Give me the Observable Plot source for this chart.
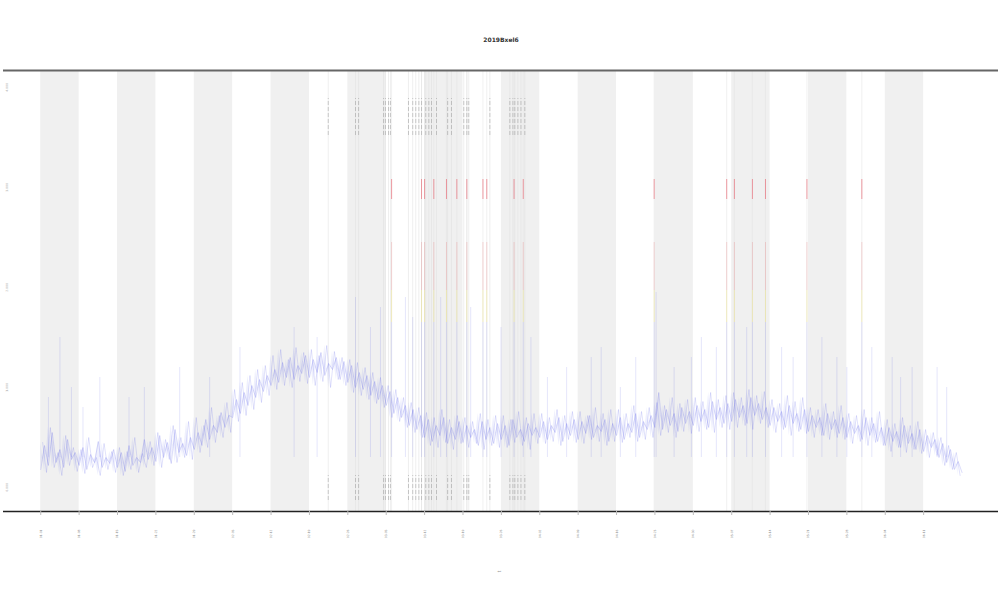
<!DOCTYPE html>
<html><head><meta charset="utf-8">
<script src="https://cdn.jsdelivr.net/npm/d3@7"></script>
<script src="https://cdn.jsdelivr.net/npm/@observablehq/plot@0.6"></script>
<style>body{margin:0;background:#fff;font-family:"DejaVu Sans",sans-serif}</style>
</head><body><div id="chart"></div>
<script>
const title = "2019Bxel6";
const xLabel = "t";
const xTicks = [0,1,2,3,4,5,6,7,8,9,10,11,12,13,14,15,16,17,18,19,20,21,22,23];
const xTickLabels = ["01-01","01-08","01-15","01-22","01-29","02-05","02-12","02-19","02-26","03-05","03-12","03-19","03-26","04-02","04-09","04-16","04-23","04-30","05-07","05-14","05-21","05-28","06-04","06-11"];
const yTicks = [0,1,2,3,4];
const yTickLabels = ["0.000","1.000","2.000","3.000","4.000"];
const bands = [0,2,4,6,8,10,12,14,16,18,20,22];
const seriesValues = [
0.18,0.42,0.22,0.55,0.25,0.38,0.20,0.48,0.28,0.35,
0.22,0.40,0.18,0.33,0.25,0.46,0.20,0.30,0.24,0.38,
0.20,0.35,0.16,0.42,0.22,0.30,0.25,0.48,0.28,0.40,
0.26,0.52,0.30,0.45,0.24,0.58,0.35,0.44,0.32,0.50,
0.38,0.55,0.42,0.68,0.48,0.62,0.55,0.75,0.60,0.72,
0.70,0.88,0.74,0.95,0.82,1.02,0.90,1.08,0.96,1.12,
1.02,1.18,1.05,1.25,1.10,1.30,1.08,1.22,1.14,1.32,
1.10,1.28,1.15,1.35,1.12,1.24,1.18,1.30,1.08,1.26,
1.05,1.22,1.00,1.15,0.98,1.12,0.92,1.06,0.88,1.02,
0.82,0.96,0.74,0.90,0.70,0.82,0.62,0.78,0.58,0.72,
0.50,0.68,0.46,0.62,0.52,0.70,0.44,0.60,0.48,0.66,
0.45,0.62,0.50,0.58,0.42,0.66,0.48,0.60,0.44,0.64,
0.48,0.62,0.42,0.68,0.50,0.58,0.46,0.64,0.52,0.60,
0.50,0.66,0.48,0.62,0.55,0.70,0.46,0.64,0.52,0.68,
0.48,0.66,0.54,0.72,0.50,0.62,0.56,0.68,0.46,0.64,
0.52,0.70,0.48,0.64,0.55,0.74,0.50,0.66,0.58,0.72,
0.60,0.95,0.58,0.78,0.62,0.74,0.56,0.80,0.64,0.76,
0.62,0.82,0.66,0.78,0.60,0.86,0.68,0.80,0.64,0.84,
0.66,0.88,0.70,0.82,0.64,0.90,0.72,0.84,0.68,0.80,
0.62,0.80,0.66,0.76,0.60,0.82,0.64,0.74,0.58,0.78,
0.56,0.72,0.60,0.70,0.52,0.74,0.58,0.68,0.54,0.70,
0.50,0.66,0.54,0.62,0.48,0.70,0.52,0.64,0.46,0.60,
0.42,0.60,0.46,0.56,0.40,0.62,0.44,0.54,0.38,0.58,
0.36,0.52,0.40,0.48,0.30,0.44,0.25,0.38,0.18,0.26,
0.15];
const seriesValuesB = [
0.45,0.15,0.60,0.20,0.35,0.12,0.52,0.22,0.40,0.16,
0.38,0.14,0.50,0.20,0.30,0.12,0.44,0.18,0.36,0.15,
0.40,0.12,0.36,0.18,0.50,0.15,0.34,0.20,0.46,0.22,
0.55,0.20,0.48,0.28,0.62,0.25,0.50,0.30,0.66,0.28,
0.70,0.35,0.62,0.40,0.80,0.45,0.72,0.50,0.85,0.55,
0.98,0.66,1.05,0.72,1.12,0.78,1.18,0.85,1.22,0.92,
1.32,0.98,1.38,1.02,1.28,1.00,1.40,1.06,1.35,1.04,
1.38,1.02,1.32,1.06,1.42,1.00,1.36,1.08,1.30,1.02,
1.28,0.95,1.25,0.92,1.20,0.88,1.15,0.84,1.10,0.80,
1.02,0.70,0.98,0.66,0.90,0.60,0.85,0.55,0.80,0.50,
0.75,0.42,0.70,0.40,0.78,0.45,0.68,0.38,0.72,0.44,
0.70,0.40,0.66,0.44,0.74,0.38,0.68,0.42,0.72,0.40,
0.72,0.40,0.68,0.45,0.76,0.42,0.70,0.38,0.74,0.44,
0.74,0.44,0.70,0.46,0.78,0.42,0.72,0.48,0.76,0.45,
0.76,0.44,0.72,0.48,0.80,0.46,0.74,0.42,0.78,0.46,
0.78,0.45,0.74,0.50,0.82,0.46,0.76,0.48,0.80,0.50,
0.85,0.52,0.82,0.55,0.90,0.50,0.84,0.56,0.88,0.54,
0.90,0.56,0.86,0.58,0.95,0.55,0.88,0.60,0.92,0.58,
0.95,0.60,0.90,0.62,0.98,0.58,0.92,0.64,0.96,0.60,
0.88,0.55,0.84,0.58,0.92,0.52,0.86,0.56,0.90,0.54,
0.80,0.50,0.78,0.52,0.84,0.48,0.76,0.50,0.82,0.48,
0.74,0.44,0.72,0.46,0.78,0.42,0.70,0.45,0.76,0.42,
0.68,0.36,0.64,0.40,0.70,0.35,0.62,0.38,0.66,0.34,
0.58,0.30,0.55,0.32,0.50,0.22,0.42,0.18,0.35,0.12];
const seriesStep = 0.1;
const alertTimes = [9.14,9.92,10.0,10.24,10.57,10.84,11.1,11.52,11.62,12.33,12.57,15.98,17.87,18.07,18.54,18.88,19.96,21.39];
const spikeTimes = [0.5,1.54,3.62,5.19,8.2,8.59,8.85,9.5,9.69,10.42,11.2,11.99,12.77,14.34,14.6,16.03,16.95,17.21,18.39,19.3,20.35,20.74,21.65,22.18,22.7,23.35,
  0.2,0.8,1.1,2.3,2.7,4.4,6.6,7.2,13.2,13.7,15.1,15.5,16.5,17.6,19.6,21.0,22.4,23.6];
const spikeTops = [1.5,1.1,1.2,1.4,1.9,1.6,1.8,1.9,1.7,1.9,1.8,1.6,1.5,1.3,1.4,1.95,1.3,1.5,1.6,1.4,1.5,1.3,1.4,1.3,1.2,1.2,
  0.9,1.0,0.8,0.9,1.0,1.1,1.6,1.5,1.1,1.2,1.0,1.3,1.2,1.4,1.3,1.2,1.1,1.0];
const eventTimes = [7.49,8.20,8.28,8.93,8.98,9.06,9.11,9.58,9.69,9.77,9.85,9.92,10.03,10.11,10.18,10.31,10.60,10.70,11.02,11.10,11.15,11.70,12.22,12.30,12.35,12.43,12.51,12.61];

const series = seriesValues.map((v, i) => ({t: i * seriesStep, v}));
const seriesB = seriesValuesB.map((v, i) => ({t: i * seriesStep + seriesStep / 2, v}));
const band = seriesValuesB.map((v, i) => ({t: i * seriesStep, a: seriesValues[i], b: v}));
const spikes = spikeTimes.map((t, i) => ({t, top: spikeTops[i]}));
const yMin = -0.24, yMax = 4.17;

const chart = Plot.plot({
  width: 1000, height: 600,
  marginTop: 70, marginBottom: 89, marginLeft: 3, marginRight: 2,
  x: {domain: [-0.97, 24.95]},
  y: {domain: [yMin, yMax]},
  style: {fontFamily: "DejaVu Sans", background: "#fff"},
  marks: [
    Plot.rectX(bands, {x1: d => d, x2: d => d + 1, y1: yMin, y2: yMax, fill: "#f0f0f0"}),
    Plot.ruleX(eventTimes, {x: d => d, y1: yMin, y2: yMax, stroke: "#e0e0e0", strokeWidth: 1, strokeOpacity: 0.5}),
    Plot.ruleX(alertTimes, {x: d => d, y1: yMin, y2: yMax, stroke: "#e4e4e4", strokeWidth: 1, strokeOpacity: 0.5}),
    Plot.areaY(band, {x: "t", y1: "a", y2: "b", fill: "#7c82ee", fillOpacity: 0.12, curve: "linear"}),
    Plot.ruleX(spikes, {x: "t", y1: 0.3, y2: "top", stroke: "#5a5ee8", strokeWidth: 0.8, strokeOpacity: 0.2}),
    Plot.ruleX(alertTimes, {x: d => d, y1: 0.3, y2: 1.65, stroke: "#5a5ee8", strokeWidth: 0.8, strokeOpacity: 0.2}),
    Plot.ruleX(alertTimes, {x: d => d, y1: 1.65, y2: 1.97, stroke: "#e8d84a", strokeWidth: 0.8, strokeOpacity: 0.4}),
    Plot.ruleX(alertTimes, {x: d => d, y1: 1.97, y2: 2.45, stroke: "#e86060", strokeWidth: 0.8, strokeOpacity: 0.3}),
    Plot.ruleX(alertTimes, {x: d => d, y1: 2.88, y2: 3.08, stroke: "#e84050", strokeWidth: 1, strokeOpacity: 0.5}),
    Plot.line(seriesB, {x: "t", y: "v", stroke: "#4a4ee6", strokeWidth: 0.6, strokeOpacity: 0.28}),
    Plot.line(series, {x: "t", y: "v", stroke: "#4a4ee6", strokeWidth: 0.6, strokeOpacity: 0.32}),
    Plot.ruleX(eventTimes, {x: d => d, y1: 3.52, y2: 3.89, stroke: "#555", strokeWidth: 0.5, strokeOpacity: 0.55, strokeDasharray: "4,2"}),
    Plot.ruleX(eventTimes, {x: d => d, y1: -0.13, y2: 0.12, stroke: "#555", strokeWidth: 0.5, strokeOpacity: 0.55, strokeDasharray: "4,2"}),
    Plot.ruleY([yMax], {stroke: "#666", strokeWidth: 2}),
    Plot.ruleY([yMin], {stroke: "#222", strokeWidth: 1.5}),
    Plot.axisX({ticks: xTicks, tickFormat: (d, i) => xTickLabels[i], tickRotate: -90, fontSize: 3, tickSize: 4, tickPadding: 14, stroke: "#bbb", fill: "#888", label: null}),
    Plot.axisY({ticks: [], label: null}),
    Plot.text(yTicks, {x: -0.97, y: d => d, text: (d, i) => yTickLabels[i], rotate: -90, dx: 4, fontSize: 3, fill: "#999"}),
    Plot.text([title], {frameAnchor: "top", dy: -33, fontSize: 6, fill: "#333", fontWeight: "bold"}),
    Plot.text([xLabel], {frameAnchor: "bottom", dy: 60, fontSize: 5, fill: "#999", rotate: -90})
  ]
});
document.getElementById("chart").appendChild(chart);
</script>
</body></html>
